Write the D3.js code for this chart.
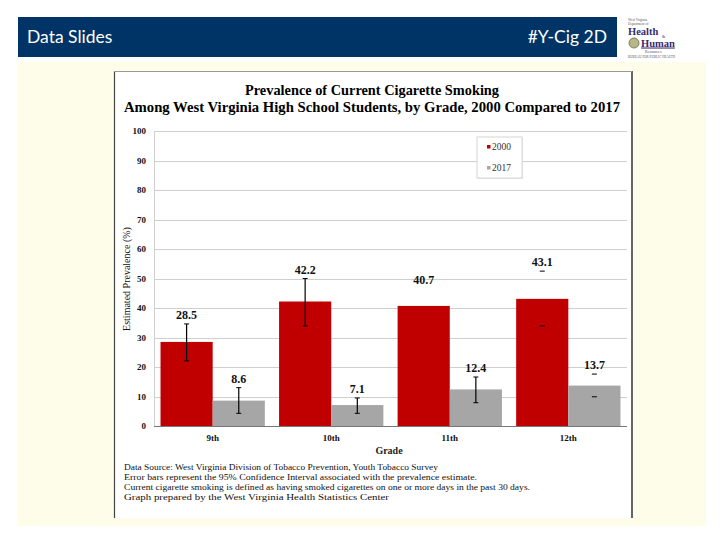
<!DOCTYPE html>
<html>
<head>
<meta charset="utf-8">
<script src="https://cdn.jsdelivr.net/npm/d3@7"></script>
<style>
  html, body { margin: 0; padding: 0; background: #ffffff; }
  svg { display: block; }
</style>
</head>
<body>
<svg id="chart" width="720" height="540"></svg>
<script>
// ---- data ----
const grades = ["9th", "10th", "11th", "12th"];
const years = ["2000", "2017"];
const values2000 = [28.5, 42.2, 40.7, 43.1];
const values2017 = [8.6, 7.1, 12.4, 13.7];
const ciLow2000  = [22.1, 33.9, null, 33.9];
const ciHigh2000 = [34.6, 50.0, 46.4, 52.5];
const ciLow2017  = [4.3, 4.3, 7.9, 9.9];
const ciHigh2017 = [13.0, 9.5, 16.6, 17.6];
const yTicks = [0, 10, 20, 30, 40, 50, 60, 70, 80, 90, 100];
const titleLines = [
  "Prevalence of Current Cigarette Smoking",
  "Among West Virginia High School Students, by Grade, 2000 Compared to 2017"
];
const footnotes = [
  "Data Source: West Virginia Division of Tobacco Prevention, Youth Tobacco Survey",
  "Error bars represent the 95% Confidence Interval associated with the prevalence estimate.",
  "Current cigarette smoking is defined as having smoked cigarettes on one or more days in the past 30 days.",
  "Graph prepared by the West Virginia Health Statistics Center"
];
const headerLeft = "Data Slides";
const headerRight = "#Y-Cig 2D";

// ---- build ----
const svg = d3.select("#chart");
const serif = "'Liberation Serif', 'Times New Roman', serif";

// slide background
svg.append("rect").attr("x", 18).attr("y", 62).attr("width", 688).attr("height", 464).attr("fill", "#fefde9");

// header bar
svg.append("rect").attr("x", 18).attr("y", 17).attr("width", 599).attr("height", 40).attr("fill", "#003366");
svg.append("text").attr("x", 27).attr("y", 43).attr("fill", "#fff")
  .attr("font-family", "Lato, 'Open Sans', sans-serif").attr("font-size", 17.5).text(headerLeft);
svg.append("text").attr("x", 607).attr("y", 43).attr("fill", "#fff").attr("text-anchor", "end")
  .attr("font-family", "Lato, 'Open Sans', sans-serif").attr("font-size", 17.5).text(headerRight);

// logo (approximation)
const logo = svg.append("g").attr("font-family", serif);
logo.append("text").attr("x", 628).attr("y", 20.5).attr("font-size", 3.5).attr("fill", "#555").text("West Virginia");
logo.append("text").attr("x", 628).attr("y", 24.5).attr("font-size", 3.5).attr("fill", "#555").text("Department of");
logo.append("text").attr("x", 628).attr("y", 34.5).attr("font-size", 10.5).attr("font-weight", "bold").attr("fill", "#3b2a6e").text("Health");
logo.append("text").attr("x", 662).attr("y", 37.5).attr("font-size", 4).attr("fill", "#3b2a6e").text("&");
logo.append("circle").attr("cx", 634).attr("cy", 43).attr("r", 5).attr("fill", "#b8b78a").attr("stroke", "#6b6a3d").attr("stroke-width", 0.8);
logo.append("text").attr("x", 641).attr("y", 46.5).attr("font-size", 10.5).attr("font-weight", "bold").attr("fill", "#3b2a6e")
  .attr("text-decoration", "underline").text("Human");
logo.append("text").attr("x", 645).attr("y", 53).attr("font-size", 4).attr("fill", "#555").text("Resources");
logo.append("text").attr("x", 628).attr("y", 57.5).attr("font-size", 3.3).attr("fill", "#555").text("BUREAU FOR PUBLIC HEALTH");

// chart picture box
svg.append("rect").attr("x", 114).attr("y", 71).attr("width", 518).attr("height", 447).attr("fill", "#fff");
svg.append("line").attr("x1", 114.5).attr("x2", 114.5).attr("y1", 71).attr("y2", 518).attr("stroke", "#444").attr("stroke-width", 1.2);
svg.append("line").attr("x1", 632).attr("x2", 632).attr("y1", 71).attr("y2", 518).attr("stroke", "#333").attr("stroke-width", 1.5);
svg.append("line").attr("x1", 114).attr("x2", 632).attr("y1", 71.5).attr("y2", 71.5).attr("stroke", "#999").attr("stroke-width", 1);

// title
svg.append("text").attr("x", 372).attr("y", 95).attr("text-anchor", "middle")
  .attr("font-family", serif).attr("font-weight", "bold").attr("font-size", 15)
  .attr("textLength", 254).attr("lengthAdjust", "spacingAndGlyphs").text(titleLines[0]);
svg.append("text").attr("x", 372).attr("y", 112).attr("text-anchor", "middle")
  .attr("font-family", serif).attr("font-weight", "bold").attr("font-size", 15)
  .attr("textLength", 496).attr("lengthAdjust", "spacingAndGlyphs").text(titleLines[1]);

// scales
const plotL = 154, plotR = 627, plotT = 131, plotB = 426;
const x0 = d3.scaleBand().domain(grades).range([plotL, plotR]).paddingInner(0.12).paddingOuter(0.055);
const x1 = d3.scaleBand().domain(years).range([0, x0.bandwidth()]).padding(0);
const y = d3.scaleLinear().domain([0, 100]).range([plotB, plotT]);

// gridlines
svg.append("g").selectAll("line").data(yTicks.filter(t => t > 0)).join("line")
  .attr("x1", plotL).attr("x2", plotR).attr("y1", d => Math.round(y(d)) + 0.5).attr("y2", d => Math.round(y(d)) + 0.5)
  .attr("stroke", "#cfcfcf").attr("stroke-width", 1);
svg.append("line").attr("x1", plotL + 0.5).attr("x2", plotL + 0.5).attr("y1", plotT).attr("y2", plotB)
  .attr("stroke", "#cfcfcf");

// y axis
const yAxis = svg.append("g").attr("transform", `translate(${plotL - 8},0)`)
  .call(d3.axisLeft(y).tickValues(yTicks).tickSize(0).tickPadding(0));
yAxis.select(".domain").remove();
yAxis.selectAll("text").attr("font-family", serif).attr("font-weight", "bold").attr("font-size", 9).attr("fill", "#111");

// y title
svg.append("text").attr("transform", "translate(130,279) rotate(-90)").attr("text-anchor", "middle")
  .attr("font-family", serif).attr("font-size", 10).attr("fill", "#111").text("Estimated Prevalence (%)");

// data table
const rows = grades.map((g, i) => ({
  grade: g,
  series: [
    { year: "2000", value: values2000[i], lo: ciLow2000[i], hi: ciHigh2000[i] },
    { year: "2017", value: values2017[i], lo: ciLow2017[i], hi: ciHigh2017[i] }
  ]
}));
const color = d3.scaleOrdinal().domain(years).range(["#c00000", "#a6a6a6"]);

const groups = svg.append("g").selectAll("g").data(rows).join("g")
  .attr("transform", d => `translate(${x0(d.grade)},0)`);

groups.selectAll("rect").data(d => d.series).join("rect")
  .attr("x", d => x1(d.year)).attr("width", x1.bandwidth())
  .attr("y", d => y(d.value)).attr("height", d => y(0) - y(d.value))
  .attr("fill", d => color(d.year));

// error bars
const capsOnlyGrades = ["12th"];
groups.each(function(row) {
  const g = d3.select(this);
  row.series.forEach(s => {
    if (s.lo == null || s.hi == null) return;
    const cx = x1(s.year) + x1.bandwidth() / 2;
    if (!capsOnlyGrades.includes(row.grade)) {
      g.append("line").attr("x1", cx).attr("x2", cx).attr("y1", y(s.hi)).attr("y2", y(s.lo))
        .attr("stroke", "#000").attr("stroke-width", 1.2);
    }
    [s.hi, s.lo].forEach(v => {
      g.append("line").attr("x1", cx - 2.5).attr("x2", cx + 2.5).attr("y1", y(v)).attr("y2", y(v))
        .attr("stroke", "#000").attr("stroke-width", 1);
    });
  });
});

// data labels
groups.selectAll("text.lbl").data(d => d.series).join("text").attr("class", "lbl")
  .attr("x", d => x1(d.year) + x1.bandwidth() / 2)
  .attr("y", d => y(d.hi != null ? d.hi : d.value) - 5)
  .attr("text-anchor", "middle").attr("font-family", serif).attr("font-weight", "bold")
  .attr("font-size", 12).attr("fill", "#111").text(d => d.value.toFixed(1));

// x axis baseline
svg.append("line").attr("x1", plotL).attr("x2", plotR).attr("y1", plotB + 0.5).attr("y2", plotB + 0.5)
  .attr("stroke", "#777").attr("stroke-width", 1);
const xAxis = svg.append("g").attr("transform", `translate(0,${plotB})`)
  .call(d3.axisBottom(x0).tickSize(0).tickPadding(9));
xAxis.select(".domain").remove();
xAxis.selectAll("text").attr("font-family", serif).attr("font-weight", "bold").attr("font-size", 9).attr("fill", "#111");

svg.append("text").attr("x", 389).attr("y", 454).attr("text-anchor", "middle")
  .attr("font-family", serif).attr("font-weight", "bold").attr("font-size", 10).attr("fill", "#222").text("Grade");

// legend
const lg = svg.append("g").attr("transform", "translate(477,137)");
lg.append("rect").attr("x", 1).attr("y", 1).attr("width", 45).attr("height", 41).attr("fill", "#e6e6e6");
lg.append("rect").attr("width", 45).attr("height", 41).attr("fill", "#fff").attr("stroke", "#d6d6d6");
years.forEach((yr, i) => {
  lg.append("rect").attr("x", 10).attr("y", 8 + i * 21).attr("width", 3.5).attr("height", 3.5).attr("fill", color(yr));
  lg.append("text").attr("x", 15).attr("y", 13 + i * 21).attr("font-family", serif).attr("font-size", 9.5)
    .attr("fill", "#333").text(yr);
});

// footnotes
const fnWidths = [314, 353, 406, 265];
svg.append("g").selectAll("text").data(footnotes).join("text")
  .attr("x", 124).attr("y", (d, i) => 470 + i * 10)
  .attr("font-family", serif).attr("font-size", 9).attr("fill", "#111")
  .attr("textLength", (d, i) => fnWidths[i]).attr("lengthAdjust", "spacingAndGlyphs")
  .text(d => d);
</script>
</body>
</html>
